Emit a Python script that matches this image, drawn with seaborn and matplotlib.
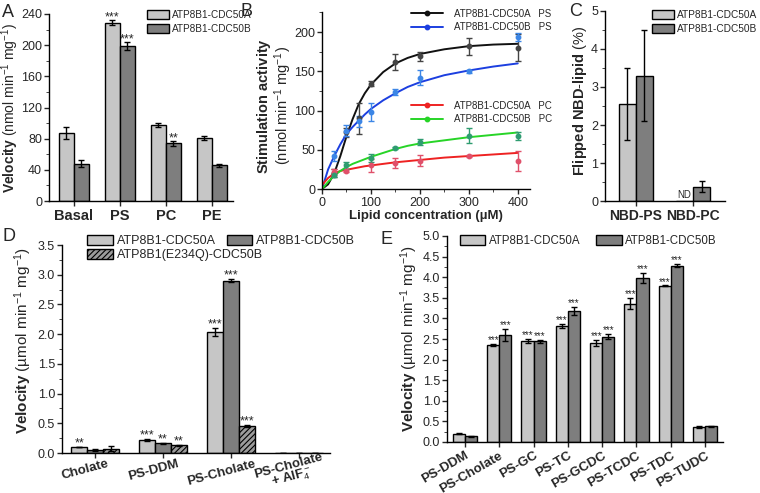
import numpy as np
import pandas as pd
import seaborn as sns
from matplotlib import pyplot as plt
from matplotlib.lines import Line2D
from matplotlib.patches import Patch
from matplotlib.ticker import MultipleLocator
from matplotlib.transforms import ScaledTranslation

# ---- panel A: ATPase velocity with lipids
a_cats = ['Basal', 'PS', 'PC', 'PE']
a_cdc50a = [87, 229, 98, 81]
a_cdc50a_err = [8, 3, 2.5, 3]
a_cdc50b = [48, 199, 74, 46]
a_cdc50b_err = [5, 5, 3, 2]
a_marks = [(0, 1, '***'), (1, 1, '***'), (1, 2, '**')]

# ---- panel B: lipid titration (points + fitted curves)
b_conc_ps = [25, 50, 75, 100, 150, 200, 300, 400]
b_a_ps = [20, 72, 90, 134, 162, 169, 182, 180]
b_a_ps_err = [5, 6, 20, 3, 10, 6, 11, 17]
b_b_ps = [42, 74, 86, 98, 124, 142, 150, 194]
b_b_ps_err = [6, 7, 7, 12, 4, 10, 2, 5]
b_conc_pc = [25, 50, 100, 150, 200, 300, 400]
b_a_pc = [22, 23.5, 30, 33, 36, 42, 36]
b_a_pc_err = [4, 2, 8, 6, 7, 1, 13]
b_b_pc = [18, 30, 40, 52, 60, 68, 67]
b_b_pc_err = [3, 4, 5, 1, 4, 10, 5]
b_fit_x = [0, 12.5, 25, 37.5, 50, 62.5, 75, 87.5, 100, 125, 150, 175, 200, 250, 300, 350, 400]
b_fit_a_ps = [0, 6, 20, 42, 67, 89, 108, 122, 133, 149, 160, 167, 172, 178, 182, 184, 185]
b_fit_b_ps = [0, 25, 42, 57, 70, 79, 87, 95, 102, 113, 122, 130, 136, 145, 151, 156, 160]
b_fit_a_pc = [5, 14, 20, 23, 24.5, 26, 27.5, 29, 30, 32, 34, 35.5, 37, 40, 42, 44, 46]
b_fit_b_pc = [0, 9, 17, 23, 28, 32, 35, 38, 41, 46, 51, 55, 58, 62, 66, 69, 72]

# ---- panel C: flipped NBD lipid
c_cats = ['NBD-PS', 'NBD-PC']
c_cdc50a = [2.55, 0]
c_cdc50a_err = [0.95, np.nan]
c_cdc50b = [3.3, 0.38]
c_cdc50b_err = [1.2, 0.15]

# ---- panel D: detergent / AlF4
d_cats = ['Cholate', 'PS-DDM', 'PS-Cholate', 'PS-Cholate\n+ AlF$_4^-$']
d_cdc50a = [0.10, 0.22, 2.04, 0.008]
d_cdc50a_err = [0.005, 0.02, 0.07, 0]
d_cdc50b = [0.05, 0.16, 2.90, 0.004]
d_cdc50b_err = [0.01, 0.015, 0.02, 0]
d_e234q = [0.07, 0.13, 0.46, 0.004]
d_e234q_err = [0.04, 0.01, 0.015, 0]
d_marks = [(0, 0, '**'), (0, 1, '***'), (1, 1, '**'), (2, 1, '**'),
           (0, 2, '***'), (1, 2, '***'), (2, 2, '***')]

# ---- panel E: bile salts
e_cats = ['PS-DDM', 'PS-Cholate', 'PS-GC', 'PS-TC', 'PS-GCDC', 'PS-TCDC', 'PS-TDC', 'PS-TUDC']
e_cdc50a = [0.20, 2.36, 2.46, 2.81, 2.40, 3.36, 3.79, 0.36]
e_cdc50a_err = [0.01, 0.02, 0.05, 0.05, 0.07, 0.14, 0.01, 0.02]
e_cdc50b = [0.14, 2.59, 2.44, 3.18, 2.56, 3.98, 4.28, 0.38]
e_cdc50b_err = [0.01, 0.15, 0.03, 0.10, 0.06, 0.13, 0.04, 0.02]
e_marks = [(g, i, '***') for i in range(1, 7) for g in (0, 1)]

LIGHT = '#c6c6c6'
DARK = '#7e7e7e'
HATCHC = '#9c9c9c'

sns.set_style('ticks')
plt.rcParams['font.family'] = ['Liberation Sans', 'DejaVu Sans']
plt.rcParams.update({
    'mathtext.fontset': 'custom',
    'mathtext.rm': 'Liberation Sans',
    'mathtext.bf': 'Liberation Sans:bold',
    'mathtext.it': 'Liberation Sans:italic',
    'axes.linewidth': 1.0,
    'xtick.major.size': 3.5, 'ytick.major.size': 3.5,
    'xtick.minor.size': 2, 'ytick.minor.size': 2,
    'xtick.major.width': 1, 'ytick.major.width': 1,
    'hatch.linewidth': 0.8,
    'axes.edgecolor': 'black',
})

W, H = 760, 493
fig = plt.figure(figsize=(W / 100, H / 100), dpi=100)


def box(l, t, r, b):
    return [l / W, 1 - b / H, (r - l) / W, (b - t) / H]


def bars(ax, cats, groups, vals, errs, colors, width):
    rows = []
    for g, v in zip(groups, vals):
        for c, y in zip(cats, v):
            rows.append((c, g, y))
    df = pd.DataFrame(rows, columns=['cat', 'group', 'val'])
    sns.barplot(data=df, x='cat', y='val', hue='group', order=cats, hue_order=groups,
                palette=colors, width=width, edgecolor='black', linewidth=1,
                errorbar=None, legend=False, ax=ax)
    conts = list(ax.containers)
    for cont, err in zip(conts, errs):
        xs = [p.get_x() + p.get_width() / 2 for p in cont]
        hs = [p.get_height() for p in cont]
        ax.errorbar(xs, hs, yerr=err, fmt='none', ecolor='black', elinewidth=1,
                    capsize=2.5, capthick=1)
    ax.set_xlabel('')
    ax.set_ylabel('')
    return conts


def stars(ax, conts, errs, marks, fs, pad):
    for g, i, s in marks:
        p = conts[g][i]
        e = errs[g][i]
        ax.text(p.get_x() + p.get_width() / 2, p.get_height() + e + pad, s,
                ha='center', va='bottom', fontsize=fs)


def patch_legend(ax, labels, colors, anchor, fs, hl, hh, **kw):
    handles = [Patch(facecolor=c, edgecolor='black', linewidth=1) for c in colors]
    return ax.legend(handles, labels, loc='upper left', bbox_to_anchor=anchor,
                     frameon=False, fontsize=fs, handlelength=hl, handleheight=hh,
                     handletextpad=0.3, borderpad=0, borderaxespad=0, **kw)


LAB = ['ATP8B1-CDC50A', 'ATP8B1-CDC50B']
VEL = r'$\mathbf{Velocity}$ (nmol min$^{-1}$ mg$^{-1}$)'
VEL_U = r'$\mathbf{Velocity}$ (µmol min$^{-1}$ mg$^{-1}$)'

# ================= A
ax = fig.add_axes(box(49, 14, 233, 201))
errsA = [a_cdc50a_err, a_cdc50b_err]
cA = bars(ax, a_cats, LAB, [a_cdc50a, a_cdc50b], errsA, [LIGHT, DARK], 0.64)
stars(ax, cA, errsA, a_marks, 9, -4)
ax.set_xlim(-0.54, 3.46)
ax.set_ylim(0, 240)
ax.yaxis.set_major_locator(MultipleLocator(40))
ax.yaxis.set_minor_locator(MultipleLocator(20))
ax.set_ylabel(VEL, fontsize=10)
ax.yaxis.set_label_coords(-0.15, 0.5)
patch_legend(ax, LAB, [LIGHT, DARK], (0.533, 1.02), 7.2, 2.2, 1.0, labelspacing=0.4)

# ================= B
ax = fig.add_axes(box(322, 12.4, 530, 189))
series = [
    (b_conc_ps, b_a_ps, b_a_ps_err, b_fit_a_ps, '#111111', '#444444'),
    (b_conc_ps, b_b_ps, b_b_ps_err, b_fit_b_ps, '#1c3fe0', '#3c86e6'),
    (b_conc_pc, b_a_pc, b_a_pc_err, b_fit_a_pc, '#ee2222', '#e0506a'),
    (b_conc_pc, b_b_pc, b_b_pc_err, b_fit_b_pc, '#27d427', '#2e9c70'),
]
for xs, ys, es, fit, col, ecol in series:
    sns.lineplot(x=b_fit_x, y=fit, color=col, linewidth=1.4, ax=ax, legend=False)
    ax.errorbar(xs, ys, yerr=es, fmt='o', ms=3.2, color=ecol, ecolor=ecol,
                elinewidth=1, capsize=2.5, capthick=1)
ax.set_xlim(0, 425)
ax.set_ylim(0, 225)
ax.xaxis.set_major_locator(MultipleLocator(100))
ax.xaxis.set_minor_locator(MultipleLocator(50))
ax.yaxis.set_major_locator(MultipleLocator(50))
ax.yaxis.set_minor_locator(MultipleLocator(25))
ax.set_xlabel('Lipid concentration (µM)', fontsize=9.5, fontweight='bold', labelpad=1)
ax.set_ylabel(r'$\mathbf{Stimulation\ activity}$' + '\n' + r'(nmol min$^{-1}$ mg$^{-1}$)',
              fontsize=10.5, linespacing=0.95)
ax.yaxis.set_label_coords(-0.135, 0.47)
hB = [Line2D([0], [0], color=s[4], lw=1.4, marker='o', ms=3.2) for s in series]
leg1 = ax.legend(hB[:2], ['ATP8B1-CDC50A   PS', 'ATP8B1-CDC50B   PS'], loc='upper left',
                 bbox_to_anchor=(0.43, 1.02), frameon=False, fontsize=7, handlelength=3.2,
                 handletextpad=1.2, labelspacing=0.35, borderpad=0, borderaxespad=0)
ax.add_artist(leg1)
ax.legend(hB[2:], ['ATP8B1-CDC50A   PC', 'ATP8B1-CDC50B   PC'], loc='upper left',
          bbox_to_anchor=(0.43, 0.50), frameon=False, fontsize=7, handlelength=3.2,
          handletextpad=1.2, labelspacing=0.35, borderpad=0, borderaxespad=0)

# ================= C
ax = fig.add_axes(box(605, 11, 725, 201))
errsC = [c_cdc50a_err, c_cdc50b_err]
cC = bars(ax, c_cats, LAB, [c_cdc50a, c_cdc50b], errsC, [LIGHT, DARK], 0.6)
nd = cC[0][1]
ax.text(nd.get_x() + nd.get_width() / 2, 0.03, 'ND', ha='center', va='bottom', fontsize=7)
ax.set_xlim(-0.54, 1.56)
ax.set_ylim(0, 5)
ax.yaxis.set_major_locator(MultipleLocator(1))
ax.yaxis.set_minor_locator(MultipleLocator(0.5))
ax.set_ylabel(r'$\mathbf{Flipped\ NBD}$-$\mathbf{lipid}$ (%)', fontsize=10.5)
ax.yaxis.set_label_coords(-0.13, 0.53)
patch_legend(ax, LAB, [LIGHT, DARK], (0.39, 1.005), 7.3, 2.2, 1.0, labelspacing=0.35)

# ================= D
ax = fig.add_axes(box(62, 245, 330, 453))
errsD = [d_cdc50a_err, d_cdc50b_err, d_e234q_err]
labD = LAB + ['ATP8B1(E234Q)-CDC50B']
cD = bars(ax, d_cats, labD, [d_cdc50a, d_cdc50b, d_e234q], errsD, [LIGHT, DARK, HATCHC], 0.7)
for p in cD[2]:
    p.set_hatch('//////')
stars(ax, cD, errsD, d_marks, 9, -0.04)
ax.set_xlim(-0.49, 3.46)
ax.set_ylim(0, 3.5)
ax.yaxis.set_major_locator(MultipleLocator(0.5))
ax.yaxis.set_minor_locator(MultipleLocator(0.25))
ax.yaxis.set_major_formatter('{x:.1f}')
ax.set_ylabel(VEL_U, fontsize=11)
ax.yaxis.set_label_coords(-0.105, 0.54)
hD = [Patch(facecolor=LIGHT, edgecolor='black'),
      Patch(facecolor=HATCHC, edgecolor='black', hatch='//////')]
lg = ax.legend(hD, [labD[0], labD[2]], loc='upper left', bbox_to_anchor=(0.093, 1.05),
               frameon=False, fontsize=9, handlelength=2.1, handleheight=0.9,
               handletextpad=0.3, labelspacing=0.15, borderpad=0, borderaxespad=0)
ax.add_artist(lg)
ax.legend([Patch(facecolor=DARK, edgecolor='black')], [labD[1]], loc='upper left',
          bbox_to_anchor=(0.616, 1.05), frameon=False, fontsize=9, handlelength=2.0,
          handleheight=0.9, handletextpad=0.3, borderpad=0, borderaxespad=0)

# ================= E
ax = fig.add_axes(box(447, 236, 723, 442))
errsE = [e_cdc50a_err, e_cdc50b_err]
cE = bars(ax, e_cats, LAB, [e_cdc50a, e_cdc50b], errsE, [LIGHT, DARK], 0.7)
stars(ax, cE, errsE, e_marks, 7, -0.03)
ax.set_xlim(-0.52, 7.52)
ax.set_ylim(0, 5)
ax.yaxis.set_major_locator(MultipleLocator(0.5))
ax.yaxis.set_minor_locator(MultipleLocator(0.25))
ax.yaxis.set_major_formatter('{x:.1f}')
ax.set_ylabel(VEL_U, fontsize=11)
ax.yaxis.set_label_coords(-0.098, 0.5)
patch_legend(ax, LAB, [LIGHT, DARK], (0.047, 1.005), 8.3, 2.2, 0.95, ncol=2,
             columnspacing=1.4)

# common styling
axA, axB, axC, axD, axE = fig.axes
for ax in fig.axes:
    sns.despine(ax=ax)
    ax.tick_params(axis='y', which='both', direction='out', labelsize=9, pad=1.5)
    ax.tick_params(axis='x', which='both', direction='out', labelsize=9, pad=2)
for ax, fs in ((axA, 10.5), (axC, 10)):
    for t in ax.get_xticklabels():
        t.set_fontweight('bold')
        t.set_fontsize(fs)
dlabels = axD.get_xticklabels()
for k, t in enumerate(dlabels):
    t.set_rotation(15)
    t.set_ha('center')
    t.set_fontweight('bold')
    t.set_fontsize(9.5)
    t.set_linespacing(0.85)
    dy = 0.1 if k == len(dlabels) - 1 else 0.03
    dx = -0.08 if k == len(dlabels) - 1 else -0.1
    t.set_transform(t.get_transform() + ScaledTranslation(dx, dy, fig.dpi_scale_trans))
for t in axE.get_xticklabels():
    t.set_rotation(30)
    t.set_ha('right')
    t.set_rotation_mode('anchor')
    t.set_fontweight('bold')
    t.set_fontsize(9.5)

for letter, x, y in [('A', 2, 4), ('B', 241, 3), ('C', 569, 3), ('D', 2, 228), ('E', 381, 231)]:
    fig.text(x / W, 1 - y / H, letter, fontsize=13, va='top', ha='left')

fig.savefig('out.png', dpi=100, facecolor='white')
